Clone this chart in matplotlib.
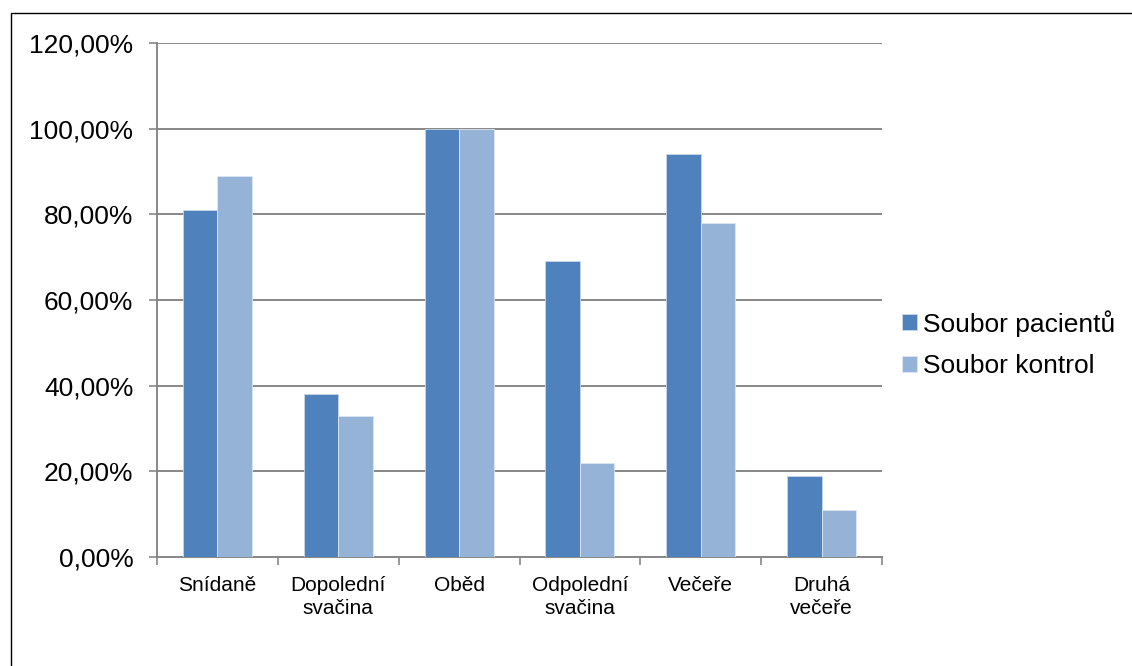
# Meal frequency: patients vs. controls
import matplotlib.pyplot as plt
import numpy as np
from matplotlib.patches import Rectangle

plt.rcParams['font.family'] = ['Liberation Sans', 'DejaVu Sans']

meals = ["Snídaně", "Dopolední\nsvačina", "Oběd", "Odpolední\nsvačina", "Večeře", "Druhá\nvečeře"]
pacienti = [81, 38, 100, 69, 94, 19]
kontroly = [89, 33, 100, 22, 78, 11]
yticks = [0, 20, 40, 60, 80, 100, 120]
ytick_labels = ["0,00%", "20,00%", "40,00%", "60,00%", "80,00%", "100,00%", "120,00%"]

c_pac = "#4F81BD"
c_kon = "#95B3D7"
grid_c = "#878787"

fig = plt.figure(figsize=(11.32, 6.66), dpi=100)
W, H = 1132, 666
ax = fig.add_axes([157 / W, 1 - 557 / H, (882 - 157) / W, (557 - 43) / H])

x = np.arange(len(meals))
bw = 0.286
ax.bar(x - bw / 2, pacienti, bw, color=c_pac, edgecolor="#c8d8ea", linewidth=0.6,
       label="Soubor pacientů", zorder=3)
ax.bar(x + bw / 2, kontroly, bw, color=c_kon, edgecolor="#dde7f3", linewidth=0.6,
       label="Soubor kontrol", zorder=3)

ax.set_xlim(-0.5, len(meals) - 0.5)
ax.set_ylim(0, 120)
ax.set_yticks(yticks)
ax.set_yticklabels(ytick_labels, fontsize=19)
ax.set_xticks(x)
ax.set_xticklabels(meals, fontsize=15, linespacing=1.25)
ax.set_xticks(np.arange(len(meals) + 1) - 0.5, minor=True)

ax.tick_params(axis='x', which='major', length=0, pad=14)
ax.tick_params(axis='x', which='minor', length=6, width=1.2, color=grid_c, direction='out')
ax.tick_params(axis='y', length=6, width=1.2, color=grid_c, direction='out', pad=11)

ax.grid(axis='y', color=grid_c, linewidth=1.4, zorder=0)
for side in ("top", "right"):
    ax.spines[side].set_visible(False)
for side in ("left", "bottom"):
    ax.spines[side].set_color(grid_c)
    ax.spines[side].set_linewidth(1.4)

fig.legend(loc="center left", bbox_to_anchor=(889 / W, 1 - 344 / H), frameon=False,
           fontsize=19, borderpad=0, handlelength=0.55, handleheight=0.55,
           handletextpad=0.25, labelspacing=0.65)

# outer frame around the chart area
fig.patches.append(Rectangle((11 / W, -0.1), 1.2, 1 - 13 / H + 0.1, transform=fig.transFigure,
                             fill=False, edgecolor="black", linewidth=1.0))

fig.savefig("out.png", dpi=100)
